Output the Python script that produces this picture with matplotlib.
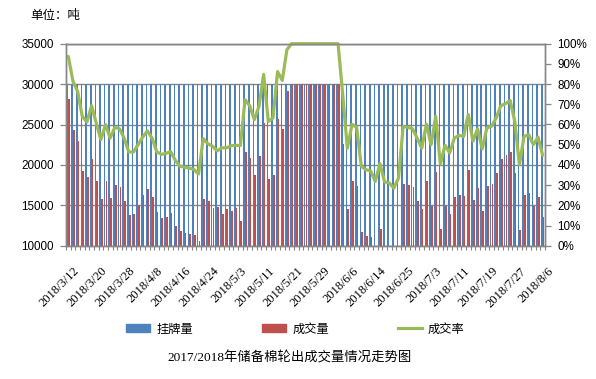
import matplotlib
matplotlib.use('Agg')
import matplotlib.pyplot as plt
import matplotlib.transforms as mtransforms
from matplotlib.patches import Patch
from matplotlib.lines import Line2D
import numpy as np

tick_labels = ['2018/3/12', '2018/3/20', '2018/3/28', '2018/4/8', '2018/4/16', '2018/4/24',
               '2018/5/3', '2018/5/11', '2018/5/21', '2018/5/29', '2018/6/6', '2018/6/14',
               '2018/6/25', '2018/7/3', '2018/7/11', '2018/7/19', '2018/7/27', '2018/8/6']

# 挂牌量 (tons)
listed = [30000, 30000, 30000, 30000, 30000, 30000, 30000, 30000, 30000, 30000,
          30000, 30000, 30000, 30000, 30000, 30000, 30000, 30000, 30000, 30000,
          30000, 30000, 30000, 30000, 30000, 30000, 30000, 30000, 30000, 30000,
          30000, 30000, 30000, 30000, 30000, 30000, 30000, 30000, 30000, 30000,
          30000, 30000, 30000, 30000, 30000, 30000, 30000, 30000, 30000, 30000,
          30000, 30000, 30000, 30000, 30000, 30000, 30000, 30000, 30000, 30000,
          30000, 30000, 30000, 30000, 30000, 30000, 30000, 30000, 30000, 30000,
          30000, 30000, 30000, 30000, 30000, 30000, 30000, 30000, 30000, 30000,
          30000, 30000, 30000, 30000, 30000, 30000, 30000, 30000, 30000, 30000,
          30000, 30000, 30000, 30000, 30000, 30000, 30000, 30000, 30000, 30000,
          30000, 30000, 30000]

# 成交量 (tons)
traded = [28180, 24340, 22980, 19260, 18510, 20740, 18020, 15790, 18020, 15910,
          17560, 17270, 15540, 13800, 13970, 15040, 16280, 17030, 16030, 14220,
          13430, 13550, 14050, 12440, 11820, 11570, 11450, 11280, 10580, 15790,
          15500, 14670, 14790, 13930, 14550, 14300, 14670, 13060, 21610, 20870,
          18750, 21070, 25210, 18260, 18800, 25700, 24500, 29130, 30000, 30000,
          30000, 30000, 30000, 30000, 30000, 30000, 30000, 30000, 30000, 22600,
          14590, 17980, 17400, 11690, 11200, 11030, 9540, 12070, 9450, 9300,
          8550, 9900, 17650, 17520, 17270, 15540, 14550, 18020, 14960, 19130,
          12070, 14960, 13930, 16030, 16280, 16160, 19380, 15660, 17150, 14300,
          17400, 17650, 19010, 20740, 21240, 21610, 19010, 11940, 16280, 16530,
          14920, 16030, 13550]

# 成交率 (%)
rate = [93.7, 81.4, 76.4, 64.0, 61.2, 69.3, 60.7, 52.5, 59.9, 53.3,
        58.6, 57.9, 53.3, 46.4, 46.4, 50.0, 53.8, 56.8, 53.3, 46.6,
        45.2, 45.7, 46.6, 42.3, 39.4, 38.8, 38.4, 37.8, 35.5, 53.0,
        50.5, 49.3, 46.9, 48.5, 48.4, 49.5, 49.7, 49.6, 72.3, 69.3,
        62.4, 69.0, 84.8, 61.5, 63.2, 86.2, 81.8, 97.0, 100, 100,
        100, 100, 100, 100, 100, 100, 100, 100, 100, 75.0,
        48.3, 60.1, 58.5, 39.3, 37.6, 37.1, 31.8, 40.6, 31.6, 31.1,
        28.5, 33.5, 59.0, 58.6, 57.9, 53.3, 48.3, 60.2, 50.0, 64.0,
        40.4, 49.7, 45.9, 53.3, 54.6, 54.1, 64.9, 51.7, 57.9, 47.9,
        58.3, 59.1, 63.2, 69.3, 70.3, 71.9, 61.6, 40.1, 54.1, 55.0,
        50.0, 53.8, 44.7]

W, H = 596, 379
fig = plt.figure(figsize=(W / 100, H / 100), dpi=100)
ax = fig.add_axes([66 / W, 1 - 245.7 / H, (545 - 66) / W, (245.7 - 43.7) / H])

grid_col = '#868686'
n = len(rate)
x = np.arange(n)
bw = 0.36
ax.bar(x - 0.19, listed, bw, color='#4F81BD', zorder=2, label='挂牌量')
ax.bar(x + 0.19, traded, bw, color='#C0504D', zorder=2, label='成交量')
ax.set_ylim(10000, 35000)
ax.set_xlim(-0.5, n - 0.5)
ax.set_yticks(range(10000, 35001, 5000))
ax.yaxis.grid(True, color=grid_col, lw=1.0, zorder=0)
ax.set_axisbelow(True)

# x ticks: labels every 6 categories, tick marks at category boundaries
label_pos = list(range(0, n, 6))
ax.set_xticks(label_pos)
ax.set_xticklabels(tick_labels, rotation=45, ha='right', va='top', rotation_mode='anchor',
                   fontsize=9, family='Liberation Serif')
ax.set_xticks(np.arange(-0.5, n, 1), minor=True)
ax.tick_params(axis='x', which='major', length=0, pad=14)
ax.tick_params(axis='x', which='minor', length=3, color=grid_col, width=0.8)
offset = mtransforms.ScaledTranslation(5 / 100, 0, fig.dpi_scale_trans)
for lab in ax.get_xticklabels():
    lab.set_transform(lab.get_transform() + offset)

ax.tick_params(axis='y', length=4, color=grid_col, width=0.9, pad=5, labelsize=8.4)
for lab in ax.get_yticklabels():
    lab.set_family('Liberation Sans')

for s in ax.spines.values():
    s.set_color(grid_col)
    s.set_linewidth(1.0)

ax2 = ax.twinx()
ax2.plot(x, rate, color='#9BBB59', lw=2.3, solid_capstyle='round', clip_on=False,
         label='成交率')
ax2.set_ylim(0, 100)
ax2.set_yticks(range(0, 101, 10))
ax2.set_yticklabels([f'{v}%' for v in range(0, 101, 10)])
ax2.tick_params(axis='y', length=4, color=grid_col, width=0.9, pad=5, labelsize=8.4)
for lab in ax2.get_yticklabels():
    lab.set_family('Liberation Sans')
for s in ax2.spines.values():
    s.set_color(grid_col)
    s.set_linewidth(1.0)

handles = [Patch(color='#4F81BD'), Patch(color='#C0504D'),
           Line2D([], [], color='#9BBB59', lw=2.3)]
fig.legend(handles, ['挂牌量', '成交量', '成交率'], loc='center left',
           bbox_to_anchor=(126 / W, 1 - 329 / H), ncol=3, frameon=False,
           prop={'family': 'Noto Sans CJK SC', 'size': 8.8},
           handlelength=2.0, handleheight=0.55, handletextpad=0.5,
           columnspacing=5.6, borderpad=0, borderaxespad=0)

fig.text(30 / W, 1 - 15 / H, '单位：吨', fontsize=9, va='center', ha='left',
         family='Noto Sans CJK SC')
fig.text(290 / W, 1 - 358 / H, '2017/2018年储备棉轮出成交量情况走势图', fontsize=9.6,
         va='center', ha='center', family=['Liberation Serif', 'Noto Sans CJK SC'])

fig.savefig('out.png', dpi=100)
